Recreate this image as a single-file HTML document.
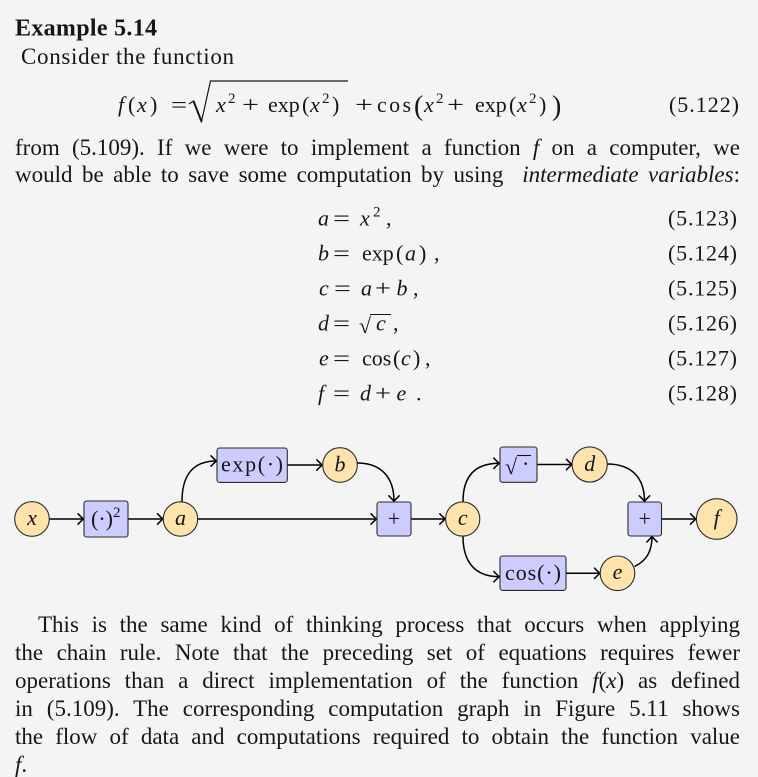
<!DOCTYPE html>
<html><head><meta charset="utf-8">
<style>
html,body{margin:0;padding:0;}
body{width:758px;height:777px;background:#f4f4f4;position:relative;overflow:hidden;}
.j{position:absolute;font-family:"Liberation Serif",serif;font-size:23px;line-height:23px;color:#161616;text-align:justify;text-align-last:justify;}
svg{position:absolute;left:0;top:0;}
svg text{font-family:"Liberation Serif",serif;fill:#161616;}
.i{font-style:italic;}
</style></head><body>
<svg width="758" height="777" viewBox="0 0 758 777">
<defs>
<marker id="ar" viewBox="-8 -7 10 14" markerWidth="10" markerHeight="14" refX="0" refY="0" orient="auto" markerUnits="userSpaceOnUse" overflow="visible">
<path d="M-5.5,-5.2 Q-1.6,-1.2 0,0 Q-1.6,1.2 -5.5,5.2" fill="none" stroke="#000" stroke-width="1.5" stroke-linecap="round"/>
</marker>
</defs>

<!-- Heading -->
<text x="15" y="35.5" font-size="24" font-weight="bold" textLength="142" lengthAdjust="spacing">Example 5.14</text>
<text x="21" y="64" font-size="23" textLength="213" lengthAdjust="spacing">Consider the function</text>

<!-- Equation 5.122 -->
<g font-size="22">
<text x="118" y="112" class="i">f</text>
<text x="128" y="112">(</text>
<text x="137" y="112" class="i">x</text>
<text x="150" y="112">)</text>
<text x="171" y="112" textLength="16" lengthAdjust="spacingAndGlyphs">=</text>
<path d="M189,104 L193.5,101 L201.5,121.5 L210.5,81 L348,81" fill="none" stroke="#161616" stroke-width="1.2"/>
<path d="M193.5,101 L201.5,121.5" stroke="#161616" stroke-width="2"/>
<text x="216" y="112" class="i">x</text>
<text x="228" y="103" font-size="15">2</text>
<text x="242" y="112" textLength="17" lengthAdjust="spacingAndGlyphs">+</text>
<text x="268" y="112">exp</text>
<text x="302" y="112">(</text>
<text x="310" y="112" class="i">x</text>
<text x="322" y="103" font-size="15">2</text>
<text x="332" y="112">)</text>
<text x="355" y="112" textLength="18" lengthAdjust="spacingAndGlyphs">+</text>
<text x="377" y="112" textLength="34" lengthAdjust="spacing">cos</text>
<text x="414" y="115" font-size="28">(</text>
<text x="424" y="112" class="i">x</text>
<text x="436" y="103" font-size="15">2</text>
<text x="447" y="112" textLength="17" lengthAdjust="spacingAndGlyphs">+</text>
<text x="475" y="112">exp</text>
<text x="509" y="112">(</text>
<text x="517" y="112" class="i">x</text>
<text x="529" y="103" font-size="15">2</text>
<text x="539" y="112">)</text>
<text x="552" y="115" font-size="28">)</text>
<text x="669" y="112" textLength="70" lengthAdjust="spacing">(5.122)</text>
</g>

<!-- Equations 5.123 - 5.128 -->
<g font-size="22">
<text x="318" y="225.5" class="i">a</text>
<text x="333" y="225.5" textLength="17" lengthAdjust="spacingAndGlyphs">=</text>
<text x="360" y="225.5" class="i">x</text>
<text x="373" y="216.5" font-size="15">2</text>
<text x="386" y="225.5">,</text>
<text x="668" y="225.5" textLength="69" lengthAdjust="spacing">(5.123)</text>

<text x="318" y="260.5" class="i">b</text>
<text x="333" y="260.5" textLength="17" lengthAdjust="spacingAndGlyphs">=</text>
<text x="362" y="260.5">exp</text>
<text x="396" y="260.5">(</text>
<text x="405" y="260.5" class="i">a</text>
<text x="419" y="260.5">)</text>
<text x="434" y="260.5">,</text>
<text x="668" y="260.5" textLength="69" lengthAdjust="spacing">(5.124)</text>

<text x="319" y="295.5" class="i">c</text>
<text x="334" y="295.5" textLength="17" lengthAdjust="spacingAndGlyphs">=</text>
<text x="361" y="295.5" class="i">a</text>
<text x="375" y="295.5" textLength="16" lengthAdjust="spacingAndGlyphs">+</text>
<text x="396.5" y="295.5" class="i">b</text>
<text x="413" y="295.5">,</text>
<text x="668" y="295.5" textLength="69" lengthAdjust="spacing">(5.125)</text>

<text x="318" y="330.5" class="i">d</text>
<text x="333" y="330.5" textLength="17" lengthAdjust="spacingAndGlyphs">=</text>
<text x="359" y="333" font-size="22">√</text>
<line x1="370" y1="314.5" x2="391" y2="314.5" stroke="#161616" stroke-width="1.1"/>
<text x="376" y="330.5" class="i">c</text>
<text x="393" y="330.5">,</text>
<text x="668" y="330.5" textLength="69" lengthAdjust="spacing">(5.126)</text>

<text x="319" y="365.5" class="i">e</text>
<text x="333" y="365.5" textLength="17" lengthAdjust="spacingAndGlyphs">=</text>
<text x="362" y="365.5">cos</text>
<text x="393" y="365.5">(</text>
<text x="401" y="365.5" class="i">c</text>
<text x="413" y="365.5">)</text>
<text x="425" y="365.5">,</text>
<text x="668" y="365.5" textLength="69" lengthAdjust="spacing">(5.127)</text>

<text x="318" y="400.5" class="i">f</text>
<text x="333" y="400.5" textLength="17" lengthAdjust="spacingAndGlyphs">=</text>
<text x="360" y="400.5" class="i">d</text>
<text x="375" y="400.5" textLength="16" lengthAdjust="spacingAndGlyphs">+</text>
<text x="396.5" y="400.5" class="i">e</text>
<text x="416" y="400.5">.</text>
<text x="668" y="400.5" textLength="69" lengthAdjust="spacing">(5.128)</text>
</g>

<!-- Graph edges -->
<g fill="none" stroke="#000" stroke-width="1.5" marker-end="url(#ar)">
<path d="M49.3,519 L83.5,519"/>
<path d="M128,519 L163,519"/>
<path d="M197.7,519 L376.5,519"/>
<path d="M182,501.7 C182,476 192,461 216.5,461"/>
<path d="M287.3,465 L322.3,465"/>
<path d="M357,463 C380,463 394,476 394,501.3"/>
<path d="M411,519 L445.3,519"/>
<path d="M463,501.7 C463,477 474,463.3 499.3,463.3"/>
<path d="M463,536.3 C463,561 474,576.7 499.3,576.7"/>
<path d="M537,464.5 L572,464.5"/>
<path d="M607,464 C630,464 644.5,476 644.5,501.3"/>
<path d="M566,573.3 L600,573.3"/>
<path d="M634.5,566.5 C646,561 652,552 652,536.5"/>
<path d="M661.5,519 L696,519"/>
</g>

<!-- Graph nodes -->
<g stroke="#2b2b2b" stroke-width="1.1">
<circle cx="32" cy="519" r="17.3" fill="#ffe3ad"/>
<circle cx="180.5" cy="519" r="17.2" fill="#ffe3ad"/>
<circle cx="340" cy="465" r="17.3" fill="#ffe3ad"/>
<circle cx="462.7" cy="519" r="17.1" fill="#ffe3ad"/>
<circle cx="589.7" cy="464.5" r="17.6" fill="#ffe3ad"/>
<circle cx="617.5" cy="573.3" r="17.3" fill="#ffe3ad"/>
<circle cx="716.7" cy="519" r="20.3" fill="#ffe3ad"/>
<rect x="84" y="501" width="44" height="36" rx="2.5" fill="#ccccff"/>
<rect x="217" y="448" width="70.3" height="34.4" rx="2.5" fill="#ccccff"/>
<rect x="377" y="502" width="34" height="34" rx="2.5" fill="#ccccff"/>
<rect x="500" y="447" width="37" height="35.3" rx="2.5" fill="#ccccff"/>
<rect x="628" y="502" width="33.5" height="34" rx="2.5" fill="#ccccff"/>
<rect x="500" y="556" width="66" height="34.4" rx="2.5" fill="#ccccff"/>
</g>

<!-- Graph labels -->
<g font-size="22">
<text x="32" y="525" class="i" text-anchor="middle">x</text>
<text x="91" y="526">(·)</text>
<text x="113" y="517" font-size="15">2</text>
<text x="180.5" y="525" class="i" text-anchor="middle">a</text>
<text x="252" y="471.5" text-anchor="middle" textLength="62" lengthAdjust="spacing">exp(·)</text>
<text x="340" y="471.5" class="i" text-anchor="middle">b</text>
<text x="394" y="526" text-anchor="middle">+</text>
<text x="462.7" y="525" class="i" text-anchor="middle">c</text>
<text x="505" y="474" font-size="22">√</text>
<line x1="517" y1="455.5" x2="531" y2="455.5" stroke="#161616" stroke-width="1.1"/>
<text x="522" y="471">·</text>
<text x="589.7" y="471" class="i" text-anchor="middle">d</text>
<text x="644.7" y="526" text-anchor="middle">+</text>
<text x="533" y="580" text-anchor="middle" textLength="56" lengthAdjust="spacing">cos(·)</text>
<text x="617.5" y="579" class="i" text-anchor="middle">e</text>
<text x="716.7" y="525" class="i" text-anchor="middle">f</text>
</g>
</svg>

<div class="j" style="left:15px;top:136.4px;width:725px;">from (5.109). If we were to implement a function <i>f</i> on a computer, we</div>
<div class="j" style="left:15px;top:163.4px;width:725px;">would be able to save some computation by using &nbsp;<i>intermediate variables</i>:</div>

<div class="j" style="left:38px;top:612.7px;width:702px;">This is the same kind of thinking process that occurs when applying</div>
<div class="j" style="left:15px;top:641.4px;width:725px;">the chain rule. Note that the preceding set of equations requires fewer</div>
<div class="j" style="left:15px;top:668.7px;width:725px;">operations than a direct implementation of the function <i>f</i>(<i>x</i>) as defined</div>
<div class="j" style="left:15px;top:696.7px;width:725px;">in (5.109). The corresponding computation graph in Figure 5.11 shows</div>
<div class="j" style="left:15px;top:725px;width:725px;">the flow of data and computations required to obtain the function value</div>
<div class="j" style="left:15px;top:752.7px;width:60px;text-align:left;text-align-last:left;"><i>f</i>.</div>
</body></html>
